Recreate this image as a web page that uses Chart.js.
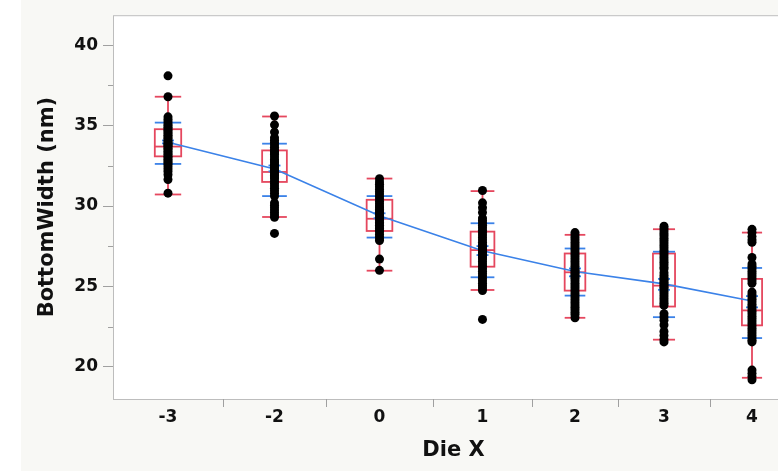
<!DOCTYPE html>
<html>
  <head>
    <title>Variability chart - BottomWidth</title>
    <style>
      body { margin: 0; overflow: hidden; background: #ffffff; }
      .chart-container { position: absolute; left: 0; top: 0; width: 800px; height: 471px; }
    </style>
  </head>
  <body>
    <div class="chart-container">
      <canvas id="mycanvas"></canvas>
    </div>

    <script src="https://cdn.jsdelivr.net/npm/chart.js@4.4.1/dist/chart.umd.min.js"></script>
    <script>
      // categories (Die X) and raw BottomWidth points per die
      var dieX = ['-3', '-2', '0', '1', '2', '3', '4'];

      var ptsM3 = [38.1, 36.8, 35.55, 35.4, 35.25, 35.1, 35.0, 34.9, 34.8, 34.7, 34.6, 34.5, 34.4, 34.3, 34.2, 34.1, 34.0, 33.9, 33.85, 33.75, 33.7, 33.6, 33.5, 33.4, 33.3, 33.2, 33.1, 33.0, 32.9, 32.8, 32.7, 32.6, 32.45, 32.3, 32.15, 31.95, 31.65, 30.8];
      var ptsM2 = [35.6, 35.05, 34.6, 34.25, 34.1, 33.95, 33.8, 33.65, 33.5, 33.4, 33.3, 33.2, 33.05, 32.9, 32.8, 32.7, 32.6, 32.5, 32.4, 32.3, 32.2, 32.1, 32.0, 31.9, 31.8, 31.7, 31.55, 31.4, 31.25, 31.1, 30.95, 30.8, 30.62, 30.2, 30.05, 29.9, 29.75, 29.6, 29.45, 29.3, 28.3];
      var pts0 = [31.7, 31.5, 31.35, 31.2, 31.05, 30.9, 30.75, 30.6, 30.45, 30.3, 30.15, 30.0, 29.9, 29.8, 29.7, 29.6, 29.5, 29.4, 29.3, 29.2, 29.1, 29.0, 28.9, 28.8, 28.7, 28.6, 28.5, 28.4, 28.25, 28.1, 27.95, 27.85, 26.7, 26.0];
      var pts1 = [30.97, 30.2, 29.9, 29.6, 29.25, 29.1, 28.95, 28.8, 28.65, 28.5, 28.35, 28.2, 28.05, 27.9, 27.75, 27.6, 27.5, 27.4, 27.3, 27.2, 27.1, 27.0, 26.9, 26.8, 26.7, 26.55, 26.4, 26.25, 26.1, 25.95, 25.8, 25.65, 25.5, 25.35, 25.2, 25.05, 24.9, 24.75, 22.95];
      var pts2 = [28.35, 28.2, 28.05, 27.9, 27.75, 27.6, 27.45, 27.3, 27.15, 27.0, 26.85, 26.7, 26.55, 26.4, 26.25, 26.1, 26.0, 25.9, 25.8, 25.7, 25.6, 25.5, 25.35, 25.2, 25.05, 24.9, 24.75, 24.6, 24.45, 24.3, 24.15, 24.0, 23.85, 23.7, 23.55, 23.4, 23.25, 23.05];
      var pts3 = [28.75, 28.6, 28.45, 28.3, 28.15, 28.0, 27.85, 27.7, 27.55, 27.4, 27.25, 27.1, 26.95, 26.8, 26.65, 26.5, 26.35, 26.2, 26.08, 25.85, 25.7, 25.55, 25.45, 25.35, 25.25, 25.15, 25.05, 24.95, 24.85, 24.7, 24.55, 24.4, 24.25, 24.1, 23.95, 23.82, 23.3, 23.1, 22.9, 22.6, 22.2, 21.95, 21.7, 21.55];
      var pts4 = [28.55, 28.35, 28.1, 27.9, 27.75, 26.8, 26.4, 26.25, 26.1, 25.95, 25.8, 25.65, 25.5, 25.35, 25.2, 24.65, 24.5, 24.35, 24.2, 24.05, 23.9, 23.75, 23.6, 23.45, 23.3, 23.15, 23.0, 22.85, 22.7, 22.55, 22.4, 22.25, 22.1, 21.95, 21.8, 21.65, 21.55, 19.8, 19.6, 19.4, 19.2];

      // box plot summary per die
      var whiskerLow  = [30.72, 29.32, 25.98, 24.78, 23.05, 21.69, 19.32];
      var q1          = [33.09, 31.50, 28.45, 26.23, 24.74, 23.75, 22.58];
      var median      = [33.70, 32.12, 29.21, 27.26, 25.88, 25.05, 23.51];
      var q3          = [34.78, 33.46, 30.39, 28.41, 27.05, 27.05, 25.47];
      var whiskerHigh = [36.80, 35.57, 31.71, 30.93, 28.21, 28.56, 28.35];

      // group means, mean error marks and std dev bars
      var groupMean = [33.97, 32.30, 29.40, 27.22, 25.93, 25.16, 24.10];
      var meanLow   = [33.90, 32.16, 29.24, 26.95, 25.63, 24.79, 23.70];
      var meanHigh  = [34.08, 32.52, 29.55, 27.51, 26.12, 25.47, 24.40];
      var sdLow     = [32.62, 30.62, 28.04, 25.57, 24.43, 23.09, 21.79];
      var sdHigh    = [35.19, 33.88, 30.62, 28.93, 27.36, 27.16, 26.15];

      var yTickValues = [20, 25, 30, 35, 40];

      // layout: horizontal room given to each die (JMP spaces them unevenly)
      var groupSpan = [110, 103, 107, 99, 86, 92, 84];

      var groupPoints = [ptsM3, ptsM2, pts0, pts1, pts2, pts3, pts4];

      var bounds = [0];
      var centers = [];
      for (var i = 0; i < groupSpan.length; i++) {
        centers.push(bounds[i] + groupSpan[i] / 2);
        bounds.push(bounds[i] + groupSpan[i]);
      }

      var pointData = [];
      for (var g = 0; g < groupPoints.length; g++) {
        for (var k = 0; k < groupPoints[g].length; k++) {
          pointData.push({x: centers[g], y: groupPoints[g][k]});
        }
      }
      var meanData = [];
      for (var m = 0; m < groupMean.length; m++) {
        meanData.push({x: centers[m], y: groupMean[m]});
      }

      var RED = '#e5475e';
      var BLUE = '#3b82e8';
      var TICKGREY = '#a0a0a0';

      var backdrop = {
        id: 'backdrop',
        beforeDraw: function(chart) {
          var c = chart.ctx, a = chart.chartArea;
          c.save();
          c.fillStyle = '#ffffff';
          c.fillRect(0, 0, chart.width, chart.height);
          c.fillStyle = '#f8f8f5';
          c.fillRect(21, 0, chart.width - 21, chart.height);
          c.fillStyle = '#ffffff';
          c.fillRect(a.left, a.top, a.right - a.left, a.bottom - a.top);
          c.strokeStyle = '#bdbdbd';
          c.lineWidth = 1;
          c.strokeRect(a.left + 0.5, a.top + 0.5, a.right - a.left, a.bottom - a.top);
          // minor y ticks
          var ys = chart.scales.y;
          c.strokeStyle = TICKGREY;
          for (var v = 22.5; v < 40; v += 5) {
            var py = Math.round(ys.getPixelForValue(v)) + 0.5;
            c.beginPath();
            c.moveTo(a.left - 5, py);
            c.lineTo(a.left, py);
            c.stroke();
          }
          c.restore();
        }
      };

      function hline(c, x0, x1, y) {
        c.beginPath();
        c.moveTo(x0, y);
        c.lineTo(x1, y);
        c.stroke();
      }

      var boxes = {
        id: 'boxes',
        beforeDatasetsDraw: function(chart) {
          var c = chart.ctx, xs = chart.scales.x, ys = chart.scales.y;
          c.save();
          c.lineWidth = 1.8;
          for (var i = 0; i < dieX.length; i++) {
            var cx = xs.getPixelForValue(centers[i]);
            var half = (xs.getPixelForValue(groupSpan[i]) - xs.getPixelForValue(0)) * 0.12;
            var yWl = ys.getPixelForValue(whiskerLow[i]);
            var yQ1 = ys.getPixelForValue(q1[i]);
            var yMd = ys.getPixelForValue(median[i]);
            var yQ3 = ys.getPixelForValue(q3[i]);
            var yWh = ys.getPixelForValue(whiskerHigh[i]);

            c.strokeStyle = RED;
            c.beginPath();
            c.moveTo(cx, yWh); c.lineTo(cx, yQ3);
            c.moveTo(cx, yQ1); c.lineTo(cx, yWl);
            c.stroke();
            hline(c, cx - half, cx + half, yWh);
            hline(c, cx - half, cx + half, yWl);
            c.strokeRect(cx - half, yQ3, half * 2, yQ1 - yQ3);
            hline(c, cx - half, cx + half, yMd);

            c.strokeStyle = BLUE;
            hline(c, cx - half, cx + half, ys.getPixelForValue(sdHigh[i]));
            hline(c, cx - half, cx + half, ys.getPixelForValue(sdLow[i]));
            hline(c, cx - 6, cx + 6, ys.getPixelForValue(meanHigh[i]));
            hline(c, cx - 6, cx + 6, ys.getPixelForValue(meanLow[i]));
          }
          c.restore();
        }
      };

      var ctx = document.getElementById('mycanvas');

      var chart = new Chart(ctx, {
        type: 'scatter',
        data: {
          datasets: [
            {
              label: 'BottomWidth',
              data: pointData,
              backgroundColor: '#000000',
              borderColor: '#000000',
              pointRadius: 4.5,
              pointBorderWidth: 0,
              order: 0
            },
            {
              type: 'line',
              label: 'Mean',
              data: meanData,
              borderColor: BLUE,
              borderWidth: 1.6,
              pointRadius: 0,
              fill: false,
              tension: 0,
              order: 1
            }
          ]
        },
        options: {
          responsive: true,
          maintainAspectRatio: false,
          animation: false,
          layout: { padding: { top: 13, right: 6, bottom: 0, left: 0 } },
          plugins: { legend: { display: false }, tooltip: { enabled: false } },
          scales: {
            x: {
              type: 'linear',
              min: 0,
              max: bounds[bounds.length - 1],
              afterBuildTicks: function(scale) {
                var t = [];
                for (var i = 0; i < centers.length; i++) {
                  t.push({value: bounds[i]});
                  t.push({value: centers[i]});
                }
                t.push({value: bounds[bounds.length - 1]});
                scale.ticks = t;
              },
              afterFit: function(scale) { scale.height = 72; },
              border: { display: false },
              grid: {
                drawOnChartArea: false,
                tickLength: 8,
                tickWidth: 1,
                tickColor: function(c) {
                  return (c.index % 2 === 0 && c.index > 0) ? TICKGREY : 'rgba(0,0,0,0)';
                }
              },
              ticks: {
                autoSkip: false,
                maxRotation: 0,
                padding: 0,
                color: '#111111',
                font: { family: 'DejaVu Sans', weight: 'bold', size: 17 },
                callback: function(value, index) {
                  return index % 2 === 1 ? dieX[(index - 1) / 2] : '';
                }
              },
              title: {
                display: true,
                text: 'Die X',
                color: '#111111',
                font: { family: 'DejaVu Sans', weight: 'bold', size: 21 },
                padding: { top: 0, bottom: 8 }
              }
            },
            y: {
              type: 'linear',
              min: 18.0,
              max: 41.87,
              afterBuildTicks: function(scale) {
                var t = [];
                for (var v = 20; v <= 40; v += 2.5) t.push({value: v});
                scale.ticks = t;
              },
              afterFit: function(scale) { scale.width = 113; },
              border: { display: false },
              grid: {
                drawOnChartArea: false,
                tickLength: 10,
                tickWidth: 1,
                tickColor: function(c) {
                  return yTickValues.indexOf(c.tick.value) >= 0 ? TICKGREY : 'rgba(0,0,0,0)';
                }
              },
              ticks: {
                autoSkip: false,
                padding: 5,
                color: '#111111',
                font: { family: 'DejaVu Sans', weight: 'bold', size: 17 },
                callback: function(value) {
                  return yTickValues.indexOf(value) >= 0 ? String(value) : '';
                }
              },
              title: {
                display: true,
                text: 'BottomWidth (nm)',
                color: '#111111',
                font: { family: 'DejaVu Sans', weight: 'bold', size: 21 },
                padding: { top: 35, bottom: 0 }
              }
            }
          }
        },
        plugins: [backdrop, boxes]
      });
    </script>
  </body>
</html>
